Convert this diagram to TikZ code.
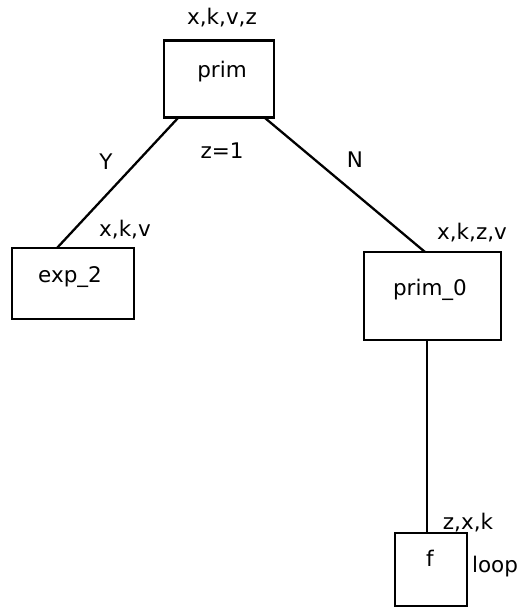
\documentclass[tikz,border=0pt]{standalone}
\usepackage{fontspec}
\setmainfont{DejaVu Sans}
\begin{document}
\begin{tikzpicture}[x=1pt,y=-1pt,
  box/.style={draw,line width=2.3pt,inner sep=0pt},
  lbl/.style={font=\fontsize{21.5}{24}\selectfont,inner sep=0pt},
  edge/.style={line width=2.3pt}]
\useasboundingbox[fill=white] (0,0) rectangle (523,610);
\node[box,minimum width=110,minimum height=77] (prim) at (219,79) {};
\node[lbl] (primt) at (222,72) {prim};
\node[box,minimum width=122,minimum height=71] (exp) at (73,283.5) {};
\node[lbl] (expt) at (70,277) {exp\_2};
\node[box,minimum width=137,minimum height=88] (prim0) at (432.5,296) {};
\node[lbl] (prim0t) at (430,290) {prim\_0};
\node[box,minimum width=72,minimum height=73] (f) at (431,569.5) {};
\node[lbl] (ft) at (430,558) {f};
\coordinate (pl) at (178,118);
\coordinate (pr) at (265,118);
\coordinate (et) at (57,248);
\coordinate (p0t) at (425,252);
\coordinate (p0b) at (427,340);
\coordinate (ftop) at (427,533);
\draw[edge] (pl) -- (et);
\draw[edge] (pr) -- (p0t);
\draw[edge] (p0b) -- (ftop);
\node[lbl] (l1) at (222,18) {x,k,v,z};
\node[lbl] (l2) at (106,162) {Y};
\node[lbl] (l3) at (222,151) {z=1};
\node[lbl] (l4) at (355,160) {N};
\node[lbl] (l5) at (125,230) {x,k,v};
\node[lbl] (l6) at (472,233) {x,k,z,v};
\node[lbl] (l7) at (468,523) {z,x,k};
\node[lbl] (l8) at (495,567) {loop};
\end{tikzpicture}
\end{document}
